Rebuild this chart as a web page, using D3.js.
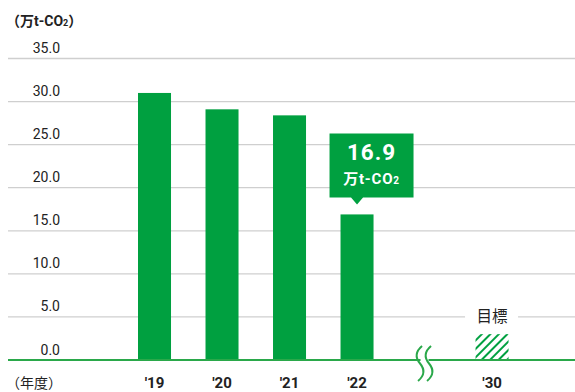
<!DOCTYPE html>
<html><head><meta charset="utf-8">
<script src="https://cdn.jsdelivr.net/npm/d3@7"></script>
<style>body{margin:0;background:#fff}svg{display:block}text{font-family:Roboto,"Noto Sans CJK JP",sans-serif}</style>
</head><body>
<svg id="c" width="575" height="392"></svg>
<script>
const years = ["'19","'20","'21","'22"];
const values = [31.0, 29.1, 28.4, 16.9];
const targetLabel = "'30";
const targetValue = 3.0;
const slots = ["'19","'20","'21","'22","break","'30"];
const yTicks = [0,5,10,15,20,25,30,35];
const highlight = {value:"16.9", unit:"万t-CO"};

const green = "#00a040";
const svg = d3.select("#c");
const y = d3.scaleLinear().domain([0,35]).range([360,58.5]);
const x = d3.scaleBand().domain(slots).range([104.25,542.3]).paddingInner(0.511).paddingOuter(0.5);
const bw = x.bandwidth();

// hatch pattern
const defs = svg.append("defs");
const pat = defs.append("pattern").attr("id","hatch").attr("patternUnits","userSpaceOnUse")
  .attr("width",6).attr("height",6).attr("patternTransform","rotate(-45)");
pat.append("rect").attr("x",0).attr("y",0).attr("width",6).attr("height",2).attr("fill",green);

// gridlines
const gx0 = 8, gx1 = 575;
const grid = svg.append("g");
yTicks.filter(d=>d>0).forEach(d=>{
  grid.append("line").attr("x1",gx0).attr("x2",gx1).attr("y1",y(d)).attr("y2",y(d))
    .attr("stroke","#cfcfcf").attr("stroke-width",1.3);
});
// y labels
svg.append("g").selectAll("text").data(yTicks).join("text")
  .attr("x",60).attr("y",d=>y(d)-5.5).attr("text-anchor","end")
  .attr("font-size",14).attr("fill","#222").text(d=>d.toFixed(1));

// bars
svg.append("g").selectAll("rect").data(values).join("rect")
  .attr("x",(d,i)=>x(years[i])).attr("width",bw)
  .attr("y",d=>y(d)).attr("height",d=>y(0)-y(d)).attr("fill",green);

// target hatched bar
svg.append("rect").attr("x",x(targetLabel)).attr("width",bw)
  .attr("y",y(targetValue)).attr("height",y(0)-y(targetValue)).attr("fill","url(#hatch)");

// 目標 label with white gap
const tcx = x(targetLabel)+bw/2;
svg.append("rect").attr("x",tcx-27).attr("y",y(5)-3).attr("width",53).attr("height",6).attr("fill","#fff");
svg.append("text").attr("x",tcx).attr("y",y(5)+5.5).attr("text-anchor","middle")
  .attr("font-size",15.5).attr("fill","#222").text("目標");

// baseline
svg.append("line").attr("x1",gx0).attr("x2",gx1).attr("y1",y(0)).attr("y2",y(0))
  .attr("stroke","#2aa84a").attr("stroke-width",2);

// break symbol
const bcx = x("break")+bw/2;
svg.append("rect").attr("x",bcx-4).attr("y",y(0)-2).attr("width",8).attr("height",4).attr("fill","#fff");
[-4.5,4.5].forEach(o=>{
  const cx = bcx+o, t=346, b=381, m=(t+b)/2;
  svg.append("path").attr("d",
    `M${cx+2},${t} C${cx-5},${t+6} ${cx-5},${m-6} ${cx},${m} C${cx+5},${m+6} ${cx+5},${b-6} ${cx-2},${b}`)
    .attr("fill","none").attr("stroke","#2aa84a").attr("stroke-width",2);
});

// x labels
svg.append("g").selectAll("text").data(years.concat([targetLabel])).join("text")
  .attr("x",d=>x(d)+bw/2).attr("y",388).attr("text-anchor","middle")
  .attr("font-size",15).attr("font-weight","bold").attr("fill","#222").text(d=>d);

// axis titles
const u = svg.append("text").attr("x",6).attr("y",26).attr("font-size",14).attr("font-weight","bold").attr("fill","#222");
u.append("tspan").text("（万t-CO");
u.append("tspan").attr("font-size",9).attr("font-weight","bold").text("2");
u.append("tspan").text("）");
svg.append("text").attr("x",6).attr("y",388).attr("font-size",14).attr("fill","#222").text("（年度）");

// callout
const bx = x("'22")+bw/2, by = y(values[3]);
const L = bx-27.5, R = bx+56.5, T = by-81, B = by-17, tip = by-10;
svg.append("path").attr("d",`M${L},${T} H${R} V${B} H${bx+6} L${bx},${tip} L${bx-6},${B} H${L} Z`).attr("fill",green);
const ccx = (L+R)/2;
svg.append("text").attr("x",ccx).attr("y",T+27).attr("text-anchor","middle")
  .attr("font-size",22.5).attr("font-weight","bold").attr("letter-spacing",1).attr("fill","#fff").text(highlight.value);
const ct = svg.append("text").attr("x",ccx).attr("y",T+51).attr("text-anchor","middle")
  .attr("font-size",15).attr("font-weight","bold").attr("letter-spacing",0.8).attr("fill","#fff");
ct.append("tspan").text(highlight.unit);
ct.append("tspan").attr("font-size",10).text("2");
</script>
</body></html>
